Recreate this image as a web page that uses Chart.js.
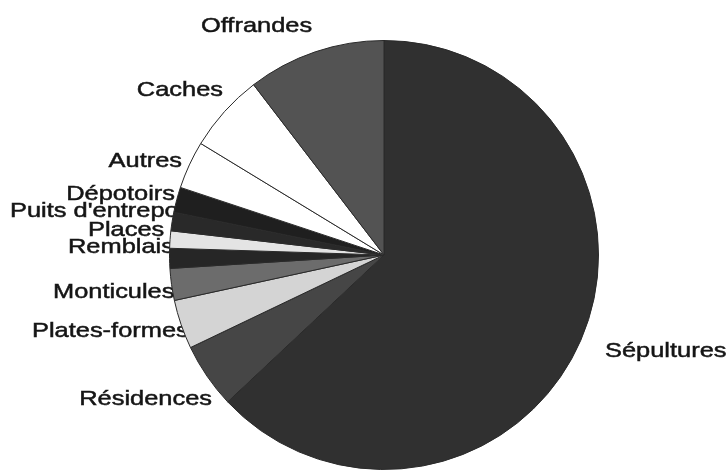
<!DOCTYPE html>
<html>
<head>
<meta charset="utf-8">
<script src="https://cdn.jsdelivr.net/npm/chart.js@4"></script>
<style>
  html, body { margin: 0; padding: 0; background: #fff; }
  #wrap { width: 728px; height: 472px; position: relative; }
</style>
</head>
<body>
<div id="wrap"><canvas id="pie"></canvas></div>
<script>
// parts, clockwise from 12 o'clock
const categories = ['Sépultures', 'Résidences', 'Plates-formes', 'Monticules', 'Remblais',
  'Places', "Puits d'entreposage", 'Dépotoirs', 'Autres', 'Caches', 'Offrandes'];
const shares = [63.0, 4.9, 3.7, 2.4, 1.5, 1.3, 1.4, 1.9, 3.6, 5.9, 10.4];
const sliceColors = ['#303030', '#464646', '#d4d4d4', '#6c6c6c', '#262626',
  '#e4e4e4', '#292929', '#1f1f1f', '#ffffff', '#ffffff', '#535353'];

// label spots (text baseline), same order as categories
const labelSpots = [
  { x: 605, y: 357, align: 'left' },
  { x: 212, y: 405, align: 'right' },
  { x: 32,  y: 337, align: 'left' },
  { x: 53,  y: 298, align: 'left' },
  { x: 68,  y: 253, align: 'left' },
  { x: 88,  y: 236, align: 'left' },
  { x: 10,  y: 217, align: 'left' },
  { x: 175, y: 200, align: 'right' },
  { x: 182, y: 167, align: 'right' },
  { x: 223, y: 96,  align: 'right' },
  { x: 201, y: 32,  align: 'left' }
];

// the scan's lettering is wide: stretch Arial sideways
const STRETCH = 1.21;

// labels go under the pie, so the slices cut them off like in the scan
const sliceLabels = {
  id: 'sliceLabels',
  beforeDatasetsDraw(chart) {
    const ctx = chart.ctx;
    ctx.save();
    ctx.font = '21px "Liberation Sans", Arial, sans-serif';
    ctx.fillStyle = '#151515';
    ctx.strokeStyle = '#151515';
    ctx.lineWidth = 0.5;
    ctx.textBaseline = 'alphabetic';
    ctx.textAlign = 'left';
    chart.data.labels.forEach((t, i) => {
      const s = labelSpots[i];
      const w = ctx.measureText(t).width * STRETCH;
      const x0 = s.align === 'right' ? s.x - w : s.x;
      ctx.save();
      ctx.translate(x0, s.y);
      ctx.scale(STRETCH, 1);
      ctx.fillText(t, 0, 0);
      ctx.strokeText(t, 0, 0);
      ctx.restore();
    });
    ctx.restore();
  }
};

new Chart(document.getElementById('pie'), {
  type: 'pie',
  data: {
    labels: categories,
    datasets: [{
      data: shares,
      backgroundColor: sliceColors,
      borderColor: '#2a2a2a',
      borderWidth: 1
    }]
  },
  options: {
    responsive: true,
    maintainAspectRatio: false,
    animation: false,
    layout: { padding: { left: 169, right: 129, top: 40, bottom: 2 } },
    plugins: {
      legend: { display: false },
      tooltip: { enabled: false }
    }
  },
  plugins: [sliceLabels]
});
</script>
</body>
</html>
